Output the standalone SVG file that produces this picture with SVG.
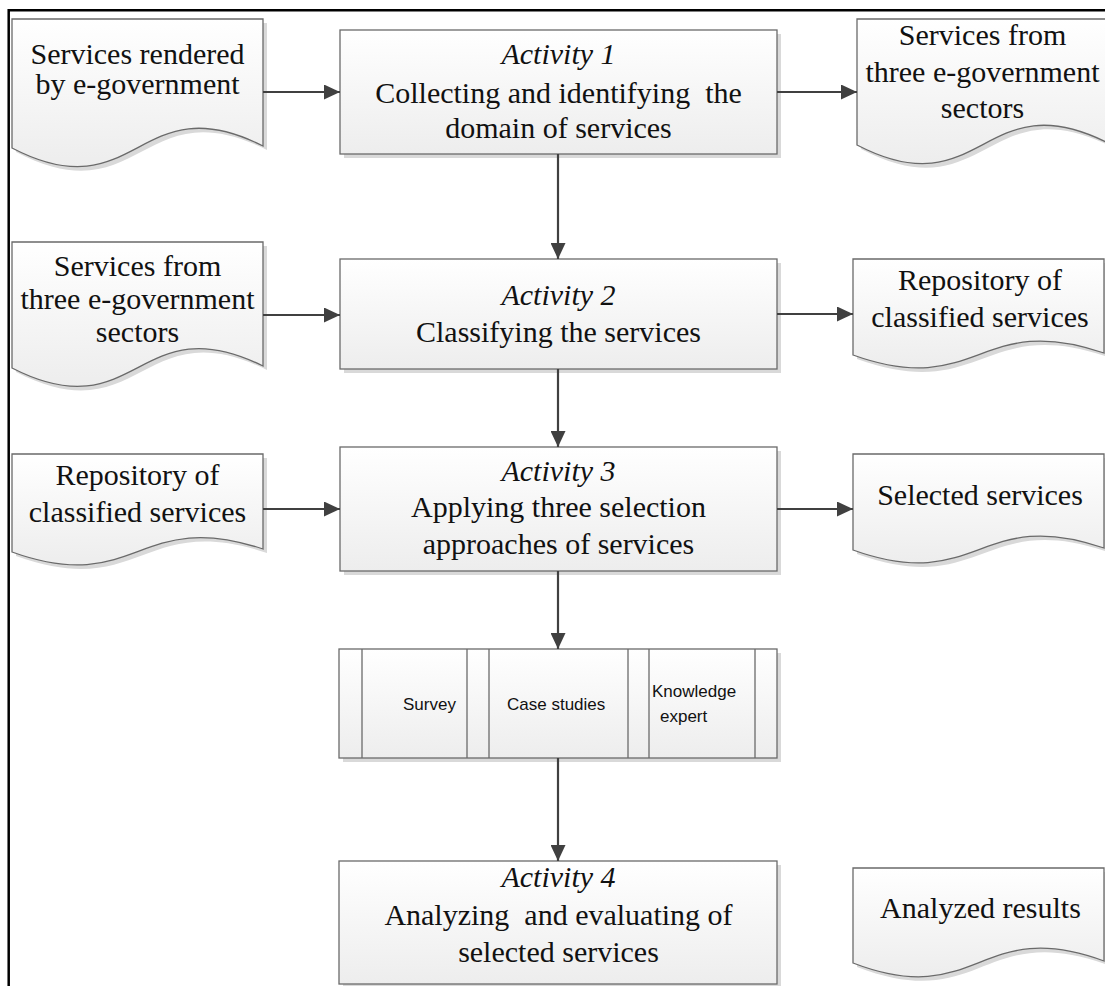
<svg xmlns="http://www.w3.org/2000/svg" width="1105" height="986" viewBox="0 0 1105 986">
  <defs>
    <linearGradient id="fillGrad" x1="0" y1="0" x2="0" y2="1">
      <stop offset="0" stop-color="#ffffff"/>
      <stop offset="1" stop-color="#ededed"/>
    </linearGradient>
    <marker id="arrow" markerUnits="userSpaceOnUse" markerWidth="16" markerHeight="15" refX="16" refY="7.5" orient="auto">
      <path d="M0,0 L16,7.5 L0,15 Z" fill="#404040"/>
    </marker>
    <style>
      .shape { fill: url(#fillGrad); stroke: #6a6a6a; stroke-width: 1.3; }
      .shadow { fill: #d9d9d9; stroke: none; }
      .divider { stroke: #6a6a6a; stroke-width: 1.3; }
      .label { font-size: 30px; fill: #111; text-anchor: middle; white-space: pre; }
      .italic { font-style: italic; }
      .small { font-size: 17px; fill: #111; white-space: pre; }
      .conn { stroke: #404040; stroke-width: 2.2; fill: none; marker-end: url(#arrow); }
    </style>
  </defs>

  <rect width="1105" height="986" fill="#ffffff"/>
  <!-- outer frame (top and left edges) -->
  <path d="M8.7,986 V10.3 H1105" fill="none" stroke="#000" stroke-width="2.5"/>

  <g font-family="Liberation Serif, Times New Roman, serif">
  <!-- documents: inputs -->
  <g id="doc-input-1">
    <path class="shadow" transform="translate(4,4)" d="M12,19 H263 V146 C137.5,83 137.5,213 12,148 Z"/>
    <path class="shape" d="M12,19 H263 V146 C137.5,83 137.5,213 12,148 Z"/>
    <text class="label" x="137.5" y="64">Services rendered</text>
    <text class="label" x="137.5" y="94">by e-government</text>
  </g>
  <g id="doc-input-2">
    <path class="shadow" transform="translate(4,4)" d="M12,242 H263 V366 C137.5,304 137.5,432 12,368 Z"/>
    <path class="shape" d="M12,242 H263 V366 C137.5,304 137.5,432 12,368 Z"/>
    <text class="label" x="137.5" y="276">Services from</text>
    <text class="label" x="137.5" y="309">three e-government</text>
    <text class="label" x="137.5" y="342">sectors</text>
  </g>
  <g id="doc-input-3">
    <path class="shadow" transform="translate(4,4)" d="M12,454 H263 V549 C137.5,507 137.5,597 12,552 Z"/>
    <path class="shape" d="M12,454 H263 V549 C137.5,507 137.5,597 12,552 Z"/>
    <text class="label" x="137.5" y="485">Repository of</text>
    <text class="label" x="137.5" y="522">classified services</text>
  </g>

  <!-- documents: outputs -->
  <g id="doc-output-1">
    <path class="shadow" transform="translate(4,4)" d="M857,19 H1108 V143 C982.5,80 982.5,210 857,145 Z"/>
    <path class="shape" d="M857,19 H1108 V143 C982.5,80 982.5,210 857,145 Z"/>
    <text class="label" x="982.5" y="45">Services from</text>
    <text class="label" x="982.5" y="82">three e-government</text>
    <text class="label" x="982.5" y="118">sectors</text>
  </g>
  <g id="doc-output-2">
    <path class="shadow" transform="translate(4,4)" d="M853,259 H1104 V353 C978.5,310 978.5,400 853,355 Z"/>
    <path class="shape" d="M853,259 H1104 V353 C978.5,310 978.5,400 853,355 Z"/>
    <text class="label" x="980" y="290">Repository of</text>
    <text class="label" x="980" y="327">classified services</text>
  </g>
  <g id="doc-output-3">
    <path class="shadow" transform="translate(4,4)" d="M853,454 H1104 V548 C978.5,505 978.5,595 853,550 Z"/>
    <path class="shape" d="M853,454 H1104 V548 C978.5,505 978.5,595 853,550 Z"/>
    <text class="label" x="980" y="505">Selected services</text>
  </g>
  <g id="doc-output-4">
    <path class="shadow" transform="translate(4,4)" d="M853,868 H1104 V961 C978.5,915 978.5,1011 853,963 Z"/>
    <path class="shape" d="M853,868 H1104 V961 C978.5,915 978.5,1011 853,963 Z"/>
    <text class="label" x="980.5" y="918">Analyzed results</text>
  </g>

  <!-- activities -->
  <g id="activity-1">
    <rect class="shadow" x="344" y="34" width="437" height="124"/>
    <rect class="shape" x="340" y="30" width="437" height="124"/>
    <text class="label italic" x="558.5" y="64">Activity 1</text>
    <text class="label" x="558.5" y="103">Collecting and identifying  the</text>
    <text class="label" x="558.5" y="138">domain of services</text>
  </g>
  <g id="activity-2">
    <rect class="shadow" x="344" y="263" width="437" height="110"/>
    <rect class="shape" x="340" y="259" width="437" height="110"/>
    <text class="label italic" x="558.5" y="305">Activity 2</text>
    <text class="label" x="558.5" y="342">Classifying the services</text>
  </g>
  <g id="activity-3">
    <rect class="shadow" x="344" y="451" width="437" height="124"/>
    <rect class="shape" x="340" y="447" width="437" height="124"/>
    <text class="label italic" x="558.5" y="481">Activity 3</text>
    <text class="label" x="558.5" y="517">Applying three selection</text>
    <text class="label" x="558.5" y="554">approaches of services</text>
  </g>

  <g id="activity-4">
    <rect class="shadow" x="343" y="865" width="438" height="123"/>
    <rect class="shape" x="339" y="861" width="438" height="123"/>
    <text class="label italic" x="558.5" y="887">Activity 4</text>
    <text class="label" x="558.5" y="925">Analyzing  and evaluating of</text>
    <text class="label" x="558.5" y="962">selected services</text>
  </g>
  </g>

  <!-- selection approaches (predefined processes) -->
  <g id="approaches" font-family="Liberation Sans, Arial, sans-serif">
    <rect class="shadow" x="343" y="653" width="438" height="109"/>
    <rect class="shape" x="339" y="649" width="438" height="109"/>
    <line class="divider" x1="362" y1="649" x2="362" y2="758"/>
    <line class="divider" x1="467" y1="649" x2="467" y2="758"/>
    <line class="divider" x1="489" y1="649" x2="489" y2="758"/>
    <line class="divider" x1="628" y1="649" x2="628" y2="758"/>
    <line class="divider" x1="649" y1="649" x2="649" y2="758"/>
    <line class="divider" x1="755" y1="649" x2="755" y2="758"/>
    <text class="small" x="403" y="710">Survey</text>
    <text class="small" x="507" y="710">Case studies</text>
    <text class="small" x="652" y="697">Knowledge</text>
    <text class="small" x="660" y="722">expert</text>
  </g>

  <!-- connectors -->
  <g id="connectors">
    <line class="conn" x1="263" y1="92" x2="340" y2="92"/>
    <line class="conn" x1="777" y1="92" x2="857" y2="92"/>
    <line class="conn" x1="263" y1="315" x2="340" y2="315"/>
    <line class="conn" x1="777" y1="314" x2="853" y2="314"/>
    <line class="conn" x1="263" y1="509" x2="340" y2="509"/>
    <line class="conn" x1="777" y1="509" x2="853" y2="509"/>
    <line class="conn" x1="558" y1="154" x2="558" y2="259"/>
    <line class="conn" x1="558" y1="369" x2="558" y2="447"/>
    <line class="conn" x1="558" y1="571" x2="558" y2="649"/>
    <line class="conn" x1="558" y1="758" x2="558" y2="861"/>
  </g>
</svg>
